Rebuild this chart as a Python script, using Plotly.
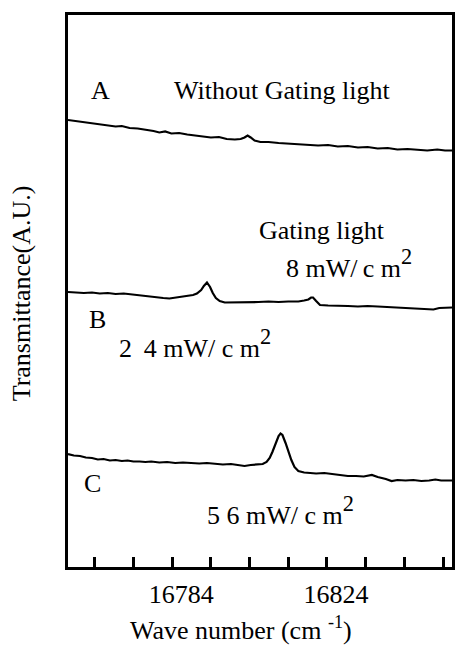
import plotly.graph_objects as go

# Wave number (cm-1) and transmittance (arbitrary units) for the three spectra
wn_a = [16757.1, 16759.2, 16761.2, 16763.3, 16765.3, 16767.4, 16769.4, 16771.0, 16773.0, 16775.1,
        16777.1, 16779.2, 16780.7, 16782.2, 16783.8, 16785.8, 16787.9, 16789.9, 16792.0, 16794.0,
        16796.1, 16798.1, 16800.2, 16801.7, 16802.7, 16803.5, 16804.3, 16805.3, 16806.8, 16808.9,
        16811.5, 16814.0, 16816.6, 16819.2, 16821.7, 16824.3, 16826.8, 16829.4, 16832.0, 16834.5,
        16837.1, 16839.7, 16842.2, 16844.8, 16847.4, 16849.9, 16852.5, 16854.5, 16856.3]
tr_a = [89.4, 89.2, 88.9, 88.8, 88.5, 88.4, 88.1, 88.2, 87.8, 87.7,
        87.5, 87.2, 86.9, 87.1, 86.7, 86.8, 86.5, 86.3, 86.2, 85.9,
        86.0, 85.6, 85.5, 85.6, 85.9, 86.3, 85.9, 85.3, 85.0, 85.0,
        84.8, 84.7, 84.6, 84.5, 84.3, 84.4, 84.1, 84.2, 83.9, 84.0,
        83.7, 83.8, 83.5, 83.6, 83.4, 83.3, 83.5, 83.3, 83.3]

wn_b = [16757.1, 16759.2, 16761.2, 16763.3, 16765.3, 16767.4, 16769.4, 16771.5, 16773.5, 16775.6,
        16777.6, 16779.7, 16781.7, 16783.3, 16784.8, 16786.3, 16787.9, 16789.4, 16790.4, 16791.5,
        16792.2, 16793.0, 16793.8, 16794.5, 16795.3, 16796.3, 16797.6, 16799.2, 16801.2, 16803.8,
        16806.3, 16808.9, 16811.5, 16814.0, 16816.6, 16818.1, 16819.2, 16819.9, 16820.4, 16821.2,
        16822.2, 16824.3, 16826.8, 16829.4, 16832.0, 16834.5, 16837.1, 16839.7, 16842.2, 16844.8,
        16847.4, 16849.9, 16851.5, 16853.0, 16854.5, 16856.3]
tr_b = [55.0, 54.9, 54.8, 54.9, 54.7, 54.8, 54.6, 54.7, 54.5, 54.4,
        54.2, 54.0, 53.8, 53.7, 53.9, 54.1, 54.2, 54.4, 54.7, 55.4,
        56.2, 56.9, 56.0, 54.8, 53.8, 53.2, 52.9, 52.9, 53.0, 52.9,
        53.0, 53.1, 53.0, 53.1, 53.1, 53.3, 53.5, 53.9, 53.9, 53.2,
        52.4, 52.3, 52.3, 52.2, 52.1, 52.2, 52.1, 52.0, 51.9, 51.9,
        51.8, 51.7, 51.5, 51.8, 51.9, 51.9]

wn_c = [16757.1, 16758.6, 16760.2, 16761.7, 16763.3, 16764.8, 16766.3, 16767.9, 16769.4, 16771.0,
        16772.5, 16774.0, 16775.6, 16777.1, 16778.6, 16780.7, 16782.7, 16784.8, 16786.8, 16788.9,
        16791.0, 16793.0, 16795.0, 16797.1, 16799.2, 16801.2, 16802.7, 16804.3, 16805.8, 16807.4,
        16808.4, 16809.2, 16809.9, 16810.7, 16811.5, 16812.0, 16812.5, 16813.3, 16814.0, 16814.8,
        16815.6, 16816.6, 16818.1, 16819.7, 16821.2, 16823.3, 16825.3, 16827.4, 16829.4, 16831.5,
        16833.5, 16835.6, 16837.1, 16839.2, 16840.7, 16842.2, 16844.3, 16846.3, 16848.4, 16850.4,
        16852.0, 16853.5, 16856.3]
tr_c = [22.6, 22.3, 22.2, 21.9, 21.8, 21.5, 21.6, 21.3, 21.4, 21.2,
        21.3, 21.1, 21.1, 21.0, 21.1, 20.9, 21.0, 20.8, 20.9, 20.8,
        20.7, 20.8, 20.6, 20.5, 20.6, 20.4, 20.2, 20.4, 20.5, 20.6,
        21.0, 21.8, 23.0, 24.6, 26.2, 26.7, 26.4, 24.8, 23.0, 21.4,
        20.0, 19.2, 18.9, 18.8, 18.7, 18.8, 18.6, 18.5, 18.2, 18.2,
        18.1, 18.4, 18.0, 17.6, 17.2, 17.4, 17.3, 17.4, 17.2, 17.3,
        17.5, 17.3, 17.3]

label_vals = [16784, 16824]
minor_vals = [16764, 16774, 16794, 16804, 16814, 16834, 16844, 16854]

SERIF = "Liberation Serif, Times New Roman, serif"
FS = 26
line_style = dict(color="black", width=2.2)

fig = go.Figure()
for wn, tr in ((wn_a, tr_a), (wn_b, tr_b), (wn_c, tr_c)):
    fig.add_trace(go.Scatter(x=wn, y=tr, mode="lines", line=line_style,
                             hoverinfo="skip", showlegend=False))

fig.update_layout(
    width=456, height=650,
    margin=dict(l=68, r=1, t=15, b=83),
    paper_bgcolor="white", plot_bgcolor="white",
    font=dict(family=SERIF, size=FS, color="black"),
)
fig.update_xaxes(
    range=[16757.1, 16856.3], showgrid=False, zeroline=False,
    showline=True, mirror=True, linecolor="black", linewidth=3,
    tickmode="array", tickvals=label_vals, ticktext=[str(v) for v in label_vals],
    ticks="inside", ticklen=10, tickwidth=2.5, tickcolor="black",
    tickfont=dict(family=SERIF, size=FS, color="black"),
    ticklabelshift=9, ticklabelstandoff=2,
    minor=dict(tickmode="array", tickvals=minor_vals, ticks="inside",
               ticklen=10, tickwidth=2.5, tickcolor="black", showgrid=False),
)
fig.update_yaxes(
    range=[0, 110.4], showgrid=False, zeroline=False,
    showline=True, mirror=True, linecolor="black", linewidth=3,
    showticklabels=False, ticks="",
)

# squared unit with a larger raised "2"
SQ = '<span style="font-size:32px"><sup>2</sup></span>'
labels = [
    ("A", 0.0853, 0.864),
    ("Without Gating light", 0.558, 0.864),
    ("Gating light", 0.6615, 0.6105),
    ("8 mW/\u2009c m" + SQ, 0.733, 0.55),
    ("B", 0.0775, 0.4475),
    ("2\u00a0\u20094 mW/\u00a0c m" + SQ, 0.33, 0.405),
    ("C", 0.0646, 0.1504),
    ("5\u00a06\u00a0mW/\u00a0c m" + SQ, 0.553, 0.103),
    ("Wave number (cm <sup>-1</sup>)", 0.451, -0.112),
]
for text, x, y in labels:
    fig.add_annotation(text=text, x=x, y=y, xref="paper", yref="paper",
                       xanchor="center", yanchor="middle", showarrow=False,
                       font=dict(family=SERIF, size=FS, color="black"))

fig.add_annotation(text="Transmittance(A.U.)", x=-0.119, y=0.4964,
                   xref="paper", yref="paper", textangle=-90,
                   xanchor="center", yanchor="middle", showarrow=False,
                   font=dict(family=SERIF, size=FS, color="black"))

fig.write_html("out.html")
